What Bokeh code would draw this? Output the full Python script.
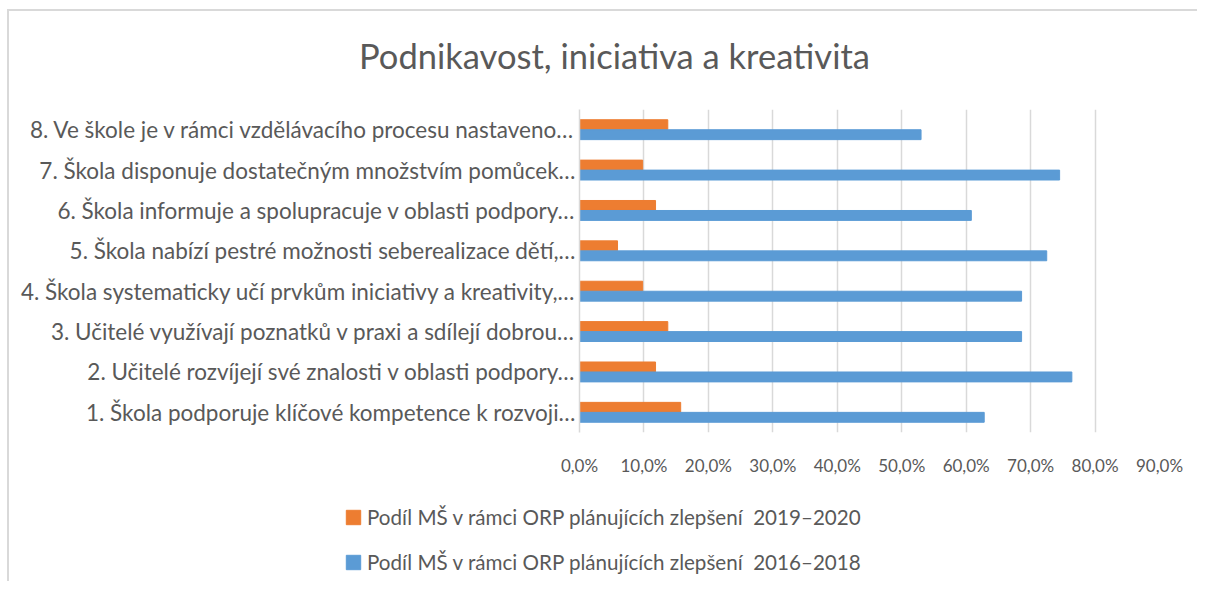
from bokeh.plotting import figure
from bokeh.models import (ColumnDataSource, FactorRange, Range1d, Legend, LegendItem,
                          CustomJSTickFormatter, FixedTicker, Label)
from bokeh.layouts import column
from bokeh.transform import dodge
from bokeh.embed import file_html
from bokeh.resources import INLINE

title_text = "Podnikavost, iniciativa a kreativita"
categories = [
    "1. Škola podporuje klíčové kompetence k rozvoji…",
    "2. Učitelé rozvíjejí své znalosti v oblasti podpory…",
    "3. Učitelé využívají poznatků v praxi a sdílejí dobrou…",
    "4. Škola systematicky učí prvkům iniciativy a kreativity,…",
    "5. Škola nabízí pestré možnosti seberealizace dětí,…",
    "6. Škola informuje a spolupracuje v oblasti podpory…",
    "7. Škola disponuje dostatečným množstvím pomůcek…",
    "8. Ve škole je v rámci vzdělávacího procesu nastaveno…",
]
series_2019_2020 = [15.7, 11.8, 13.7, 9.8, 5.9, 11.8, 9.8, 13.7]
series_2016_2018 = [62.8, 76.4, 68.6, 68.6, 72.5, 60.8, 74.5, 53.0]
legend_2019 = "Podíl MŠ v rámci ORP plánujících zlepšení  2019–2020"
legend_2016 = "Podíl MŠ v rámci ORP plánujících zlepšení  2016–2018"
x_ticks = [0, 10, 20, 30, 40, 50, 60, 70, 80, 90]

FONT = "Lato"
TEXT = "#595959"
GRID = "#D9D9D9"
ORANGE = "#ED7D31"
BLUE = "#5B9BD5"
W = 1188
SHIFT = 235  # strips are shifted left so their (aligned) frames start under the labels


def bare(fig):
    fig.axis.visible = False
    fig.grid.visible = False
    fig.outline_line_color = None
    fig.background_fill_alpha = 0
    fig.border_fill_alpha = 0
    fig.styles = {"transform": "translateX(-%dpx)" % SHIFT}


# ---- title strip
p0 = figure(width=W, height=98, output_backend="svg", toolbar_location=None,
            x_range=Range1d(0, 580), y_range=Range1d(0, 98),
            min_border_left=0, min_border_right=38, min_border_top=0, min_border_bottom=0)
p0.title = None
bare(p0)
p0.add_layout(Label(x=614 - 579 + SHIFT, y=54, text=title_text, text_align="center",
                    text_baseline="middle", text_font=FONT, text_font_size="34.5px",
                    text_color=TEXT))

# ---- main chart
src = ColumnDataSource(dict(cat=categories, a=series_2019_2020, b=series_2016_2018))

p = figure(width=W, height=383, output_backend="svg", toolbar_location=None,
           y_range=FactorRange(factors=categories, range_padding=0),
           x_range=Range1d(0, 90),
           min_border_left=570, min_border_right=38, min_border_top=0, min_border_bottom=60)
p.title = None
p.outline_line_color = None
p.background_fill_color = "white"
p.border_fill_color = "white"

r_a = p.hbar(y=dodge("cat", 0.124, range=p.y_range), right="a", left=0, height=0.245,
             color=ORANGE, source=src)
r_b = p.hbar(y=dodge("cat", -0.124, range=p.y_range), right="b", left=0, height=0.245,
             color=BLUE, source=src)

xa = p.xaxis[0]
xa.ticker = FixedTicker(ticks=x_ticks)
xa.formatter = CustomJSTickFormatter(code="return tick.toFixed(1).replace('.', ',') + '%';")
xa.axis_line_color = None
xa.major_tick_line_color = None
xa.minor_tick_line_color = None
xa.major_tick_out = 0
xa.major_tick_in = 0
xa.major_label_standoff = 22
xa.major_label_text_font = FONT
xa.major_label_text_font_size = "17px"
xa.major_label_text_color = TEXT

ya = p.yaxis[0]
ya.axis_line_color = GRID
ya.axis_line_width = 1.5
ya.major_tick_line_color = None
ya.minor_tick_line_color = None
ya.major_tick_out = 0
ya.major_tick_in = 0
ya.major_label_standoff = 4
ya.major_label_text_font = FONT
ya.major_label_text_font_size = "22.5px"
ya.major_label_text_color = TEXT

p.xgrid.grid_line_color = GRID
p.xgrid.grid_line_width = 1.5
p.xgrid.ticker = FixedTicker(ticks=x_ticks)
p.ygrid.grid_line_color = None

# ---- legend strip
p2 = figure(width=W, height=89, output_backend="svg", toolbar_location=None,
            x_range=Range1d(0, 1), y_range=Range1d(0, 1),
            min_border_left=0, min_border_right=38, min_border_top=0, min_border_bottom=0)
p2.title = None
bare(p2)
key_src = ColumnDataSource(dict(y=[-5.0], right=[0.5]))
l_a = p2.hbar(y="y", right="right", left=0, height=0.1, color=ORANGE, source=key_src)
l_b = p2.hbar(y="y", right="right", left=0, height=0.1, color=BLUE, source=key_src)

legend = Legend(items=[LegendItem(label=legend_2019, renderers=[l_a]),
                       LegendItem(label=legend_2016, renderers=[l_b])],
                location=(0, 6.5), orientation="vertical",
                padding=0, margin=0, spacing=20, label_height=25,
                glyph_width=18, glyph_height=18, label_standoff=5,
                label_text_font=FONT, label_text_font_size="20.6px", label_text_color=TEXT,
                border_line_color=None, background_fill_alpha=0)
p2.add_layout(legend, "center")

layout = column(p0, p, p2, spacing=0)
layout.styles = {"margin-left": "7px", "margin-top": "9px",
                 "border-left": "2px solid #D9D9D9", "border-top": "2px solid #D9D9D9"}

open("out.html", "w").write(file_html(layout, INLINE))
